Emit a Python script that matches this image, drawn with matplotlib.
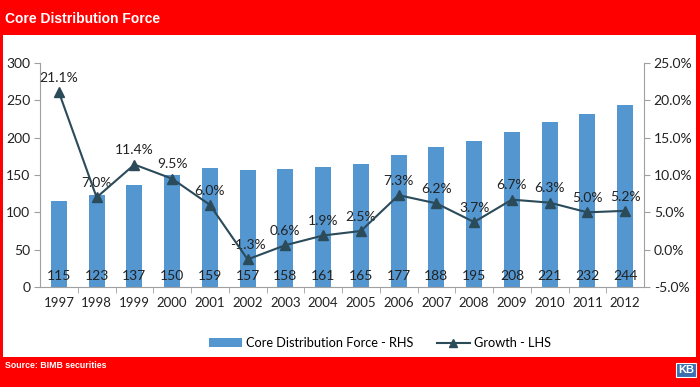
import matplotlib.pyplot as plt
from matplotlib.patches import Rectangle
from matplotlib.ticker import FuncFormatter, MultipleLocator

years = ["1997", "1998", "1999", "2000", "2001", "2002", "2003", "2004",
         "2005", "2006", "2007", "2008", "2009", "2010", "2011", "2012"]
force = [115, 123, 137, 150, 159, 157, 158, 161, 165, 177, 188, 195, 208, 221, 232, 244]
growth = [21.1, 7.0, 11.4, 9.5, 6.0, -1.3, 0.6, 1.9, 2.5, 7.3, 6.2, 3.7, 6.7, 6.3, 5.0, 5.2]

RED = "#ff0000"
BAR = "#5496cf"
LINE = "#2b4a5a"
AXIS = "#a0a0a0"
FONT = "Lato"

fig = plt.figure(figsize=(7, 3.87), dpi=100, facecolor=RED)
# white panel behind the chart
fig.patches.append(Rectangle((3 / 700, 1 - 357 / 387), 693 / 700, 322 / 387,
                             transform=fig.transFigure, facecolor="white",
                             edgecolor="none", zorder=-10))
fig.text(5 / 700, 1 - 19 / 387, "Core Distribution Force", color="white",
         fontsize=10, fontweight="bold", family="Liberation Sans", va="center")
fig.text(5 / 700, 1 - 366 / 387, "Source: BIMB securities", color="white",
         fontsize=6.3, fontweight="bold", family="Liberation Sans", va="center")
fig.text(686 / 700, 1 - 370 / 387, "KB", color="white", fontsize=8,
         fontweight="bold", family="Liberation Sans", ha="center", va="center",
         bbox=dict(boxstyle="square,pad=0.15", facecolor="#3a6fb0", edgecolor="white", lw=0.8))

ax = fig.add_axes([40 / 700, 1 - 287 / 387, 604 / 700, 224 / 387])
ax.set_facecolor("none")
x = list(range(len(years)))
bars = ax.bar(x, force, width=0.43, color=BAR, zorder=2)
for xi, v in zip(x, force):
    ax.text(xi, 15, str(v), ha="center", va="center", fontsize=10, family=FONT, color="#222222", zorder=3)

ax.set_xlim(-0.5, len(years) - 0.5)
ax.set_ylim(0, 300)
ax.yaxis.set_major_locator(MultipleLocator(50))
ax.set_xticks(x)
ax.set_xticklabels(years)
ax.set_xticks([i + 0.5 for i in x[:-1]], minor=True)
ax.tick_params(axis="x", which="major", length=0, pad=7, labelsize=9.5)
ax.tick_params(axis="x", which="minor", length=4, color=AXIS)
ax.tick_params(axis="y", length=4, color=AXIS, labelsize=10, pad=3)
for s in ["top", "right"]:
    ax.spines[s].set_visible(False)
for s in ["left", "bottom"]:
    ax.spines[s].set_color(AXIS)
for lab in ax.get_xticklabels() + ax.get_yticklabels():
    lab.set_family(FONT)
    lab.set_color("#222222")

ax2 = ax.twinx()
ln, = ax2.plot(x, growth, color=LINE, lw=1.5, marker="^", markersize=7, zorder=4)
for xi, g in zip(x, growth):
    ax2.annotate(f"{g:.1f}%", (xi, g), xytext=(0, 6), textcoords="offset points",
                 ha="center", va="bottom", fontsize=10, family=FONT, color="#222222")
ax2.set_ylim(-5, 25)
ax2.yaxis.set_major_locator(MultipleLocator(5))
ax2.yaxis.set_major_formatter(FuncFormatter(lambda v, p: f"{v:.1f}%"))
ax2.tick_params(axis="y", length=4, color=AXIS, labelsize=10, pad=3)
for s in ["top", "left", "bottom"]:
    ax2.spines[s].set_visible(False)
ax2.spines["right"].set_color(AXIS)
for lab in ax2.get_yticklabels():
    lab.set_family(FONT)
    lab.set_color("#222222")

fig.legend([bars, ln], ["Core Distribution Force - RHS", "Growth - LHS"],
           loc="center", bbox_to_anchor=(380 / 700, 1 - 343 / 387), ncol=2,
           frameon=False, prop={"family": FONT, "size": 9.2}, handlelength=2.6,
           handleheight=0.6, columnspacing=1.8, handletextpad=0.3, markerscale=0.75)

fig.savefig("out.png", dpi=100, facecolor=RED)
